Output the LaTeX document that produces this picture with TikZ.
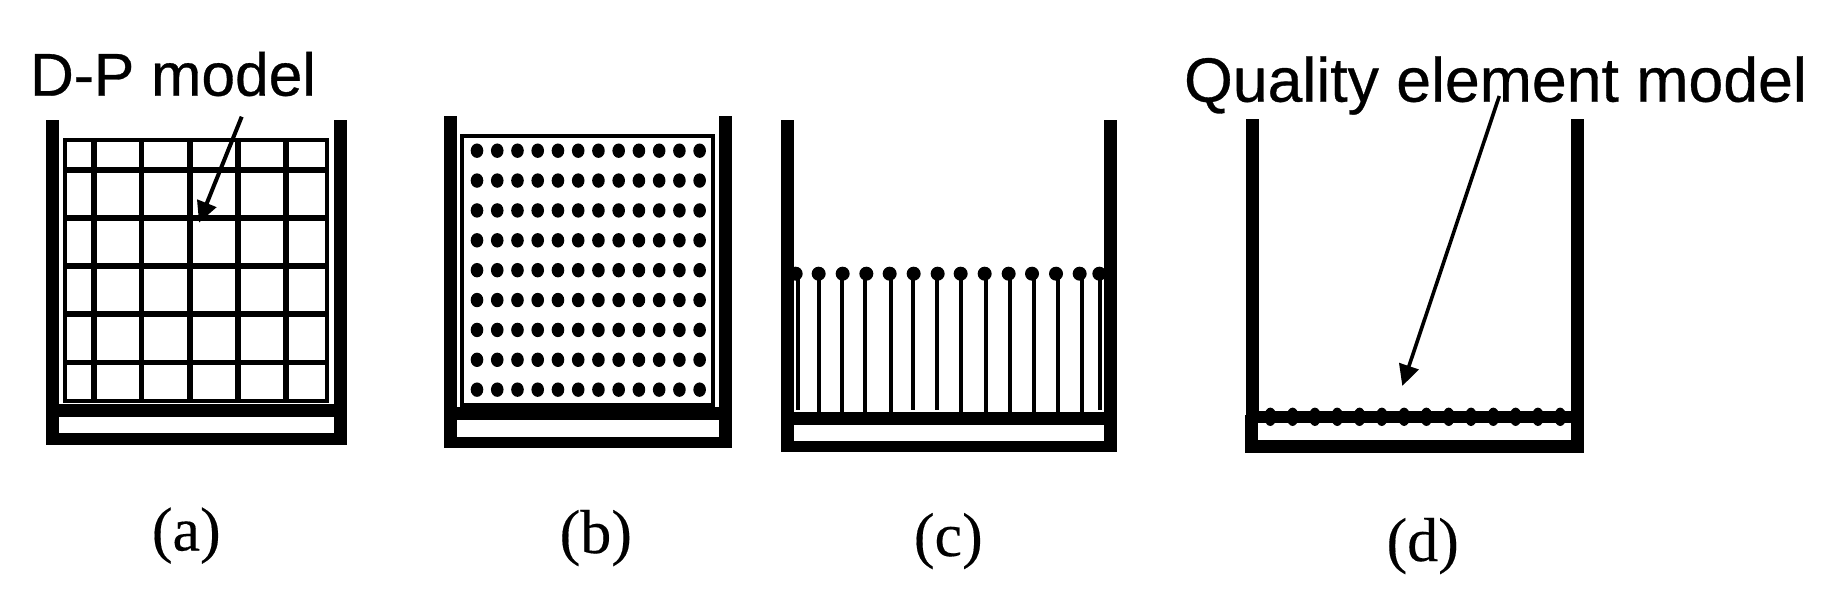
\documentclass[tikz,border=0pt]{standalone}
\usepackage{fontspec}
\setmainfont[FakeBold=0.25]{Liberation Serif}
\newfontfamily\arialfont[FakeBold=0.5]{Liberation Sans}
\usetikzlibrary{arrows.meta}
\newcommand{\tub}[9]{%
  % #1 outer left, #2 inner left, #3 inner right, #4 outer right, #5 top, #6 floor top, #7 slot top, #8 slot bottom, #9 bottom
  \fill[wallfill] (#1,#5) rectangle (#2,#9);
  \fill[wallfill] (#3,#5) rectangle (#4,#9);
  \fill[wallfill] (#1,#6) rectangle (#4,#9);
  \fill[white] (#2,#7) rectangle (#3,#8);
}
\tikzset{
  wallfill/.style={fill=black},
  sansbig/.style={inner sep=0pt,outer sep=0pt,anchor=base,font=\arialfont\fontsize{60.5}{70}\selectfont},
  sansbigger/.style={inner sep=0pt,outer sep=0pt,anchor=base,font=\arialfont\fontsize{62.6}{72}\selectfont},
  caption/.style={inner sep=0pt,outer sep=0pt,anchor=base,font=\fontsize{62}{72}\selectfont},
  gridline/.style={draw=black,line width=5.6pt},
  gridframe/.style={draw=black,line width=3.8pt},
  pointer/.style={draw=black,line width=4pt,-{Triangle[length=21pt,width=20pt]}},
  stick/.style={draw=black,line width=4.4pt},
}
\begin{document}
\begin{tikzpicture}[x=1pt,y=-1pt]
\useasboundingbox (0,0) rectangle (1822,601);
\fill[white] (0,0) rectangle (1822,601);

% ---------- (a)
\tub{46}{59}{334}{347}{120}{404}{417}{433}{444.7}
\draw[gridframe] (65,140) rectangle (327.3,401);
\foreach \gx in {94,141.3,189.7,237.7,285.7}
  \draw[gridline] (\gx,140) -- (\gx,401);
\foreach \gy in {170,218.3,266.3,314.3,362.3}
  \draw[gridline] (65,\gy) -- (327.3,\gy);
\node[sansbig] (dp) at (173,95.7) {D-P model};
\coordinate (dpstart) at (241.7,116.7);
\coordinate (dptip) at (199,222.7);
\draw[pointer] (dpstart) -- (dptip);
\node[caption] (capa) at (186.3,550.5) {(a)};

% ---------- (b)
\tub{444}{456.7}{719}{732}{116}{406.7}{419.7}{437}{447.7}
\fill[black] (460,134) rectangle (715.3,406.7);
\fill[white] (464.3,138.3) rectangle (711,402.7);
\foreach \row in {0,...,8}
  \foreach \col in {0,...,11}
    \fill[black] ({477+\col*20.24},{150.7+\row*29.87}) circle [x radius=6.3pt,y radius=7.2pt];
\node[caption] (capb) at (595.8,553) {(b)};

% ---------- (c)
\tub{781}{794}{1104}{1117}{120}{412}{424.7}{441}{451.7}
\foreach \z/\b in {114/410,177/412,246/412,315/412,393/412,459/410,531/410,603/412,678/412,750/412,822/412,894/412,966/412,1020/410}
  \draw[stick] ({760+\z/3},273.7) -- ({760+\z/3},\b);
\foreach \z in {107,176,248,319,389,461,533,602,674,746,816,888,959,1018}
  \fill[black] ({760+\z/3},273.7) circle [radius=7pt];
\node[caption] (capc) at (948.3,556) {(c)};

% ---------- (d)
\fill[wallfill] (1246,119) rectangle (1259,416);
\fill[wallfill] (1571,119) rectangle (1584,452.7);
\fill[wallfill] (1245,415) rectangle (1258,452.7);
\fill[wallfill] (1245,440) rectangle (1584,452.7);
\fill[wallfill] (1258,410.7) rectangle (1571,423.3);
\foreach \i in {0,...,13}
  \fill[black] ({1270.3+\i*22.3},416.8) circle [x radius=6pt,y radius=9.2pt];
\node[sansbigger] (qe) at (1495.5,101.7) {Quality element model};
\coordinate (qestart) at (1499.3,96);
\coordinate (qetip) at (1402.3,386);
\draw[pointer,line width=3.6pt] (qestart) -- (qetip);
\node[caption] (capd) at (1422.7,561) {(d)};
\end{tikzpicture}
\end{document}
